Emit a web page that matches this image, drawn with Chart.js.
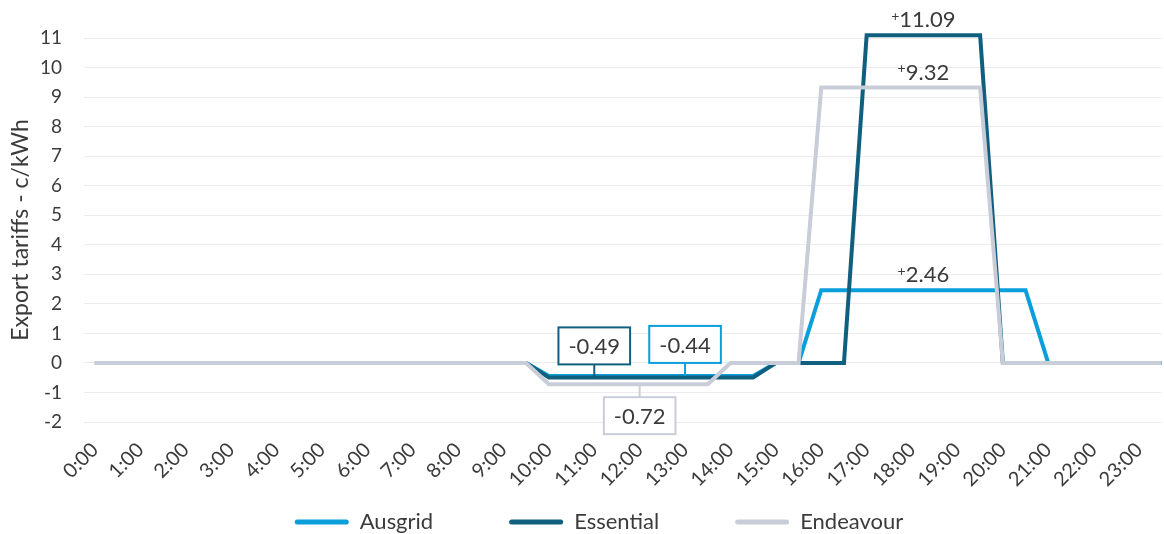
<!DOCTYPE html>
<html>
<head>
<meta charset="utf-8">
<title>Export tariffs</title>
<script src="https://cdn.jsdelivr.net/npm/chart.js@4.4.1/dist/chart.umd.min.js"></script>
<style>
  html, body { margin: 0; padding: 0; background: #fff; }
  #wrap { width: 1164px; height: 534px; }
</style>
</head>
<body>
<div id="wrap"><canvas id="tariffChart" width="1164" height="534"></canvas></div>
<script>
// half-hour slots across the day
const slots = [
  '0:00','0:30','1:00','1:30','2:00','2:30','3:00','3:30','4:00','4:30','5:00','5:30',
  '6:00','6:30','7:00','7:30','8:00','8:30','9:00','9:30','10:00','10:30','11:00','11:30',
  '12:00','12:30','13:00','13:30','14:00','14:30','15:00','15:30','16:00','16:30','17:00','17:30',
  '18:00','18:30','19:00','19:30','20:00','20:30','21:00','21:30','22:00','22:30','23:00','23:30'
];

const tickLabels = [
  '0:00','1:00','2:00','3:00','4:00','5:00','6:00','7:00','8:00','9:00','10:00','11:00',
  '12:00','13:00','14:00','15:00','16:00','17:00','18:00','19:00','20:00','21:00','22:00','23:00'
];

// export tariffs, c/kWh, one value per slot
const ausgrid = [
  0, 0, 0, 0, 0, 0, 0, 0, 0, 0, 0, 0,
  0, 0, 0, 0, 0, 0, 0, 0, -0.44, -0.44, -0.44, -0.44,
  -0.44, -0.44, -0.44, -0.44, -0.44, -0.44, 0, 0, 2.46, 2.46, 2.46, 2.46,
  2.46, 2.46, 2.46, 2.46, 2.46, 2.46, 0, 0, 0, 0, 0, 0
];
const essential = [
  0, 0, 0, 0, 0, 0, 0, 0, 0, 0, 0, 0,
  0, 0, 0, 0, 0, 0, 0, 0, -0.49, -0.49, -0.49, -0.49,
  -0.49, -0.49, -0.49, -0.49, -0.49, -0.49, 0, 0, 0, 0, 11.09, 11.09,
  11.09, 11.09, 11.09, 11.09, 0, 0, 0, 0, 0, 0, 0, 0
];
const endeavour = [
  0, 0, 0, 0, 0, 0, 0, 0, 0, 0, 0, 0,
  0, 0, 0, 0, 0, 0, 0, 0, -0.72, -0.72, -0.72, -0.72,
  -0.72, -0.72, -0.72, -0.72, 0, 0, 0, 0, 9.32, 9.32, 9.32, 9.32,
  9.32, 9.32, 9.32, 9.32, 0, 0, 0, 0, 0, 0, 0, 0
];

const seriesNames = ['Ausgrid', 'Essential', 'Endeavour'];
const seriesColors = ['#0a9fdb', '#115f7f', '#c8cdd7'];

// boxed callouts on the midday charge, plain labels over the evening peak
const dipNotes = [
  { series: 1, slot: 22, side: 'above' },
  { series: 0, slot: 26, side: 'above' },
  { series: 2, slot: 24, side: 'below' }
];
const peakNotes = [
  { series: 1, slot: 36 },
  { series: 2, slot: 36 },
  { series: 0, slot: 36 }
];
const peakNoteHour = 18.25;

const FONT = 'Lato, "Open Sans", sans-serif';
const TEXT = '#3b3b3b';

function toHours(s) {
  const [h, m] = s.split(':').map(Number);
  return h + m / 60;
}

function points(values) {
  return values.map((v, i) => ({ x: toHours(slots[i]), y: v }));
}

// the x axis is squeezed for layout so the legend sits close under the
// labels; give it its real height back so the rotated labels are not clipped
const axisRoom = {
  id: 'axisRoom',
  afterLayout(chart) {
    const x = chart.scales.x;
    x.height = 90;
    x.bottom = x.top + 90;
    const lg = chart.legend;
    lg.left += 17;
    lg.right += 17;
  }
};

const noteLayer = {
  id: 'noteLayer',
  afterDatasetsDraw(chart) {
    const { ctx } = chart;
    const xs = chart.scales.x, ys = chart.scales.y;
    ctx.save();
    ctx.textBaseline = 'middle';

    for (const n of dipNotes) {
      const v = chart.data.datasets[n.series].data[n.slot].y;
      const px = xs.getPixelForValue(toHours(slots[n.slot]));
      const py = ys.getPixelForValue(v);
      const txt = v.toFixed(2);
      ctx.font = '22px ' + FONT;
      const w = ctx.measureText(txt).width + 20;
      const h = 37;
      const gap = 13;
      const top = n.side === 'above' ? py - gap - h : py + gap;
      ctx.strokeStyle = seriesColors[n.series];
      ctx.lineWidth = 2;
      ctx.beginPath();
      ctx.moveTo(px, py);
      ctx.lineTo(px, n.side === 'above' ? top + h : top);
      ctx.stroke();
      ctx.fillStyle = '#fff';
      ctx.fillRect(px - w / 2, top, w, h);
      ctx.strokeRect(px - w / 2, top, w, h);
      ctx.fillStyle = TEXT;
      ctx.textAlign = 'center';
      ctx.fillText(txt, px, top + h / 2 + 1);
    }

    for (const n of peakNotes) {
      const v = chart.data.datasets[n.series].data[n.slot].y;
      const px = xs.getPixelForValue(peakNoteHour);
      const py = ys.getPixelForValue(v) - 15;
      const num = v.toFixed(2);
      ctx.font = '22px ' + FONT;
      const nw = ctx.measureText(num).width;
      ctx.font = '14px ' + FONT;
      const pw = ctx.measureText('+').width;
      const left = px - (nw + pw) / 2;
      ctx.fillStyle = TEXT;
      ctx.textAlign = 'left';
      ctx.fillText('+', left, py - 4);
      ctx.font = '22px ' + FONT;
      ctx.fillText(num, left + pw, py);
    }
    ctx.restore();
  }
};

const datasets = [ausgrid, essential, endeavour].map((vals, i) => ({
  label: seriesNames[i],
  data: points(vals),
  borderColor: seriesColors[i],
  backgroundColor: seriesColors[i],
  borderWidth: 4,
  pointRadius: 0,
  tension: 0,
  clip: false,
  order: 3 - i
}));

new Chart(document.getElementById('tariffChart'), {
  type: 'line',
  data: { datasets },
  plugins: [axisRoom, noteLayer],
  options: {
    responsive: false,
    devicePixelRatio: 1,
    animation: false,
    layout: { padding: { top: 38, right: 0, bottom: -9, left: 0 } },
    plugins: {
      tooltip: { enabled: false },
      legend: {
        position: 'bottom',
        labels: {
          boxWidth: 54,
          boxHeight: 5,
          useBorderRadius: true,
          borderRadius: 2.5,
          padding: 76,
          color: TEXT,
          font: { family: FONT, size: 22 },
          sort: (a, b) => a.datasetIndex - b.datasetIndex,
          generateLabels(chart) {
            return Chart.defaults.plugins.legend.labels.generateLabels(chart)
              .map(l => ({ ...l, lineWidth: 0 }));
          }
        }
      }
    },
    scales: {
      x: {
        type: 'linear',
        min: -0.24,
        max: 23.5,
        afterBuildTicks(scale) {
          scale.ticks = tickLabels.map((_, i) => ({ value: i }));
        },
        afterFit(scale) { scale.height = 13; },
        grid: { display: false },
        border: { display: false },
        ticks: {
          autoSkip: false,
          minRotation: 45,
          maxRotation: 45,
          padding: 8,
          color: TEXT,
          font: { family: FONT, size: 20 },
          callback: (v) => tickLabels[v]
        }
      },
      y: {
        min: -2,
        max: 11,
        afterFit(scale) { scale.width = 84; },
        grid: { color: '#ececec', lineWidth: 1, drawTicks: false },
        border: { display: false },
        ticks: {
          stepSize: 1,
          padding: 22,
          color: TEXT,
          font: { family: FONT, size: 19 }
        },
        title: {
          display: true,
          text: 'Export tariffs - c/kWh',
          color: TEXT,
          font: { family: FONT, size: 23 },
          padding: { top: 7, bottom: 0 }
        }
      }
    }
  }
});
</script>
</body>
</html>
